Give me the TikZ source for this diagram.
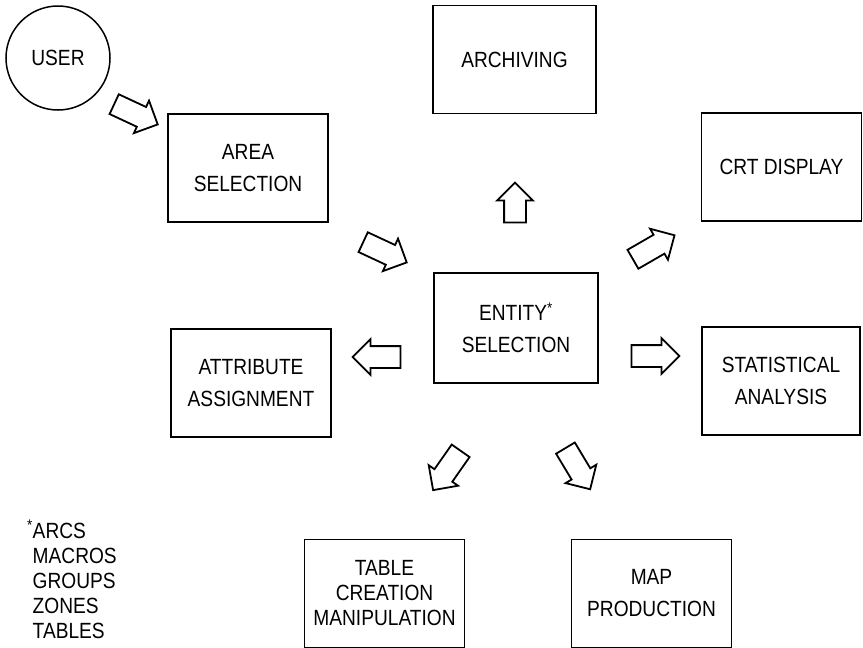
\documentclass[tikz,border=0pt]{standalone}
\usepackage{fontspec}
\setmainfont{Liberation Sans}[FakeStretch=0.87]
\usetikzlibrary{shapes.arrows}

\begin{document}
\begin{tikzpicture}[x=1pt,y=-1pt,line width=1.5pt,
 font=\fontsize{22}{32}\selectfont,
 task/.style={draw,minimum width=160pt,minimum height=108pt,inner sep=2pt,align=center},
 person/.style={circle,draw,minimum size=104pt,inner sep=0pt},
 flow/.style={single arrow,draw,line width=1.8pt,minimum height=48pt,
              inner xsep=0pt,inner ysep=10pt,single arrow head extend=7pt}]
 \useasboundingbox (0,0) rectangle (863,648);
 % boxes
 \node[person] (user) at (58,58) {USER};
 \node[task] (area) at (248,168) {AREA\\SELECTION};
 \node[task,minimum width=163pt] (archiving) at (514.5,59.5) {ARCHIVING};
 \node[task] (crt) at (781.5,167) {CRT DISPLAY};
 \node[task,minimum width=164pt,minimum height=110pt] (entity) at (516,328)
   {ENTITY\textsuperscript{*}\\SELECTION};
 \node[task] (attribute) at (251,383) {ATTRIBUTE\\ASSIGNMENT};
 \node[task,minimum width=158pt] (statistical) at (781,381) {STATISTICAL\\ANALYSIS};
 \node[task,font=\fontsize{22}{25}\selectfont] (table) at (384.5,593.5)
   {TABLE\\CREATION\\MANIPULATION};
 \node[task] (map) at (651.5,593.5) {MAP\\PRODUCTION};
 % block arrows
 \node[flow,rotate=-25] (a-user) at (131,112) {};
 \node[flow,rotate=-25] (a-area) at (380,250) {};
 \node[flow,rotate=90,minimum height=40pt] (a-archiving) at (515,208) {};
 \node[flow,rotate=30] (a-crt) at (649,250) {};
 \node[flow,rotate=180] (a-attribute) at (382,357) {};
 \node[flow] (a-statistical) at (650,356) {};
 \node[flow,rotate=-125] (a-table) at (450,466) {};
 \node[flow,rotate=-59] (a-map) at (575,464) {};
 % footnote
 \node[anchor=base west,align=left,inner sep=0pt,font=\fontsize{22}{25}\selectfont]
   (note) at (32,638) {\llap{\textsuperscript{*}}ARCS\\MACROS\\GROUPS\\ZONES\\TABLES};
\end{tikzpicture}
\end{document}
